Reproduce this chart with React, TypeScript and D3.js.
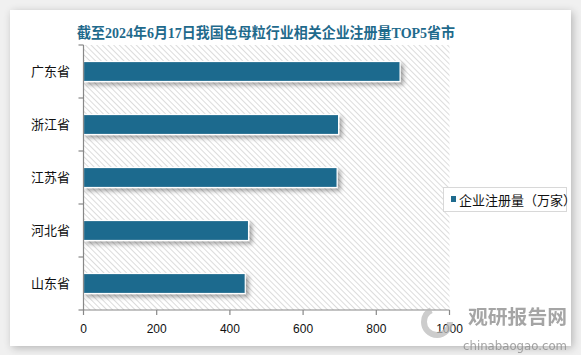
import React from "react";
import * as d3 from "d3";

const categories = ["广东省", "浙江省", "江苏省", "河北省", "山东省"];
const values = [865, 697, 693, 451, 442];
const xTicks = [0, 200, 400, 600, 800, 1000];
const seriesName = "企业注册量（万家）";
const title = "截至2024年6月17日我国色母粒行业相关企业注册量TOP5省市";

const W = 581, H = 355;
const plot = { left: 83.5, right: 449.5, top: 45, bottom: 310 };
const barColor = "#1F6B8E";

export default function App() {
  const x = d3.scaleLinear().domain([0, 1000]).range([plot.left, plot.right]);
  const y = d3.scaleBand().domain(categories).range([plot.top, plot.bottom]).paddingInner(0).paddingOuter(0);
  const bh = 20;
  const bandEdges = [...categories.map((c) => y(c)!), plot.bottom];
  const sans = "'Liberation Sans', Arial, sans-serif";
  const cjk = "'Noto Sans CJK SC', 'Noto Sans', sans-serif";
  return (
    <svg width={W} height={H} style={{ position: "absolute", left: 0, top: 0 }}>
      <defs>
        <pattern id="hatch" width="4" height="4" patternUnits="userSpaceOnUse" patternTransform="rotate(-45)">
          <rect width="4" height="4" fill="#ffffff" />
          <line x1="0" y1="0" x2="0" y2="4" stroke="#d4d4d4" strokeWidth="1.6" />
        </pattern>
        <filter id="cardShadow" x="-5%" y="-5%" width="110%" height="110%">
          <feGaussianBlur in="SourceAlpha" stdDeviation="4" />
          <feOffset dx="2" dy="2" />
          <feComponentTransfer><feFuncA type="linear" slope="0.25" /></feComponentTransfer>
          <feMerge><feMergeNode /><feMergeNode in="SourceGraphic" /></feMerge>
        </filter>
        <filter id="barShadow" x="-5%" y="-30%" width="115%" height="180%">
          <feGaussianBlur in="SourceAlpha" stdDeviation="2" />
          <feOffset dx="3" dy="3" />
          <feComponentTransfer><feFuncA type="linear" slope="0.35" /></feComponentTransfer>
          <feMerge><feMergeNode /><feMergeNode in="SourceGraphic" /></feMerge>
        </filter>
      </defs>
      <rect x={0} y={0} width={W} height={H} fill="#f0f0f0" />
      <rect x={10} y={10} width={561} height={336} fill="#ffffff" filter="url(#cardShadow)" />
      <text x={266} y={38} textAnchor="middle" fontFamily="'Liberation Serif', 'Noto Sans CJK SC', serif" fontWeight="bold" fontSize={14.5} textLength={378} lengthAdjust="spacingAndGlyphs" fill="#1F6A8C">
        {title}
      </text>
      <rect x={plot.left} y={plot.top} width={plot.right - plot.left} height={plot.bottom - plot.top} fill="url(#hatch)" />
      {categories.map((c, i) => (
        <rect key={c} x={x(0)} y={y(c)! + y.bandwidth() / 2 - bh / 2} width={x(values[i]) - x(0)} height={bh}
          fill={barColor} stroke="#ffffff" strokeWidth={1.2} filter="url(#barShadow)" />
      ))}
      <line x1={plot.left} x2={plot.left} y1={plot.top} y2={plot.bottom} stroke="#888" strokeWidth={1.2} />
      {bandEdges.map((e, i) => (
        <line key={i} x1={plot.left - 5} x2={plot.left} y1={e} y2={e} stroke="#888" strokeWidth={1.2} />
      ))}
      <line x1={plot.left} x2={plot.right} y1={plot.bottom} y2={plot.bottom} stroke="#888" strokeWidth={1.2} />
      {xTicks.map((t) => (
        <g key={t}>
          <line x1={x(t)} x2={x(t)} y1={plot.bottom} y2={plot.bottom + 5} stroke="#888" strokeWidth={1.2} />
          <text x={x(t)} y={plot.bottom + 23} textAnchor="middle" fontFamily={sans} fontSize={12} fill="#111">{t}</text>
        </g>
      ))}
      {categories.map((c) => (
        <text key={c} x={70} y={y(c)! + y.bandwidth() / 2 + 4.5} textAnchor="end" fontFamily={cjk} fontSize={13} fill="#111">{c}</text>
      ))}
      <rect x={443.5} y={187.5} width={123} height={24} fill="#ffffff" stroke="#d8d8d8" strokeWidth={1} />
      <rect x={451} y={196} width={5} height={6} fill={barColor} />
      <text x={459} y={204.5} fontFamily={cjk} fontSize={13} fill="#111">{seriesName}</text>
      <g opacity={0.75}>
        <circle cx={437} cy={322} r={13} fill="none" stroke="#bbbbbb" strokeWidth={6} strokeDasharray="55 27" />
        <text x={468} y={324} fontFamily={cjk} fontWeight="bold" fontSize={19.5} textLength={99} lengthAdjust="spacingAndGlyphs" fill="#888">观研报告网</text>
        <text x={463} y={350} fontFamily="'DejaVu Sans', sans-serif" fontSize={13} textLength={104} lengthAdjust="spacingAndGlyphs" fill="#888">chinabaogao.com</text>
      </g>
    </svg>
  );
}
